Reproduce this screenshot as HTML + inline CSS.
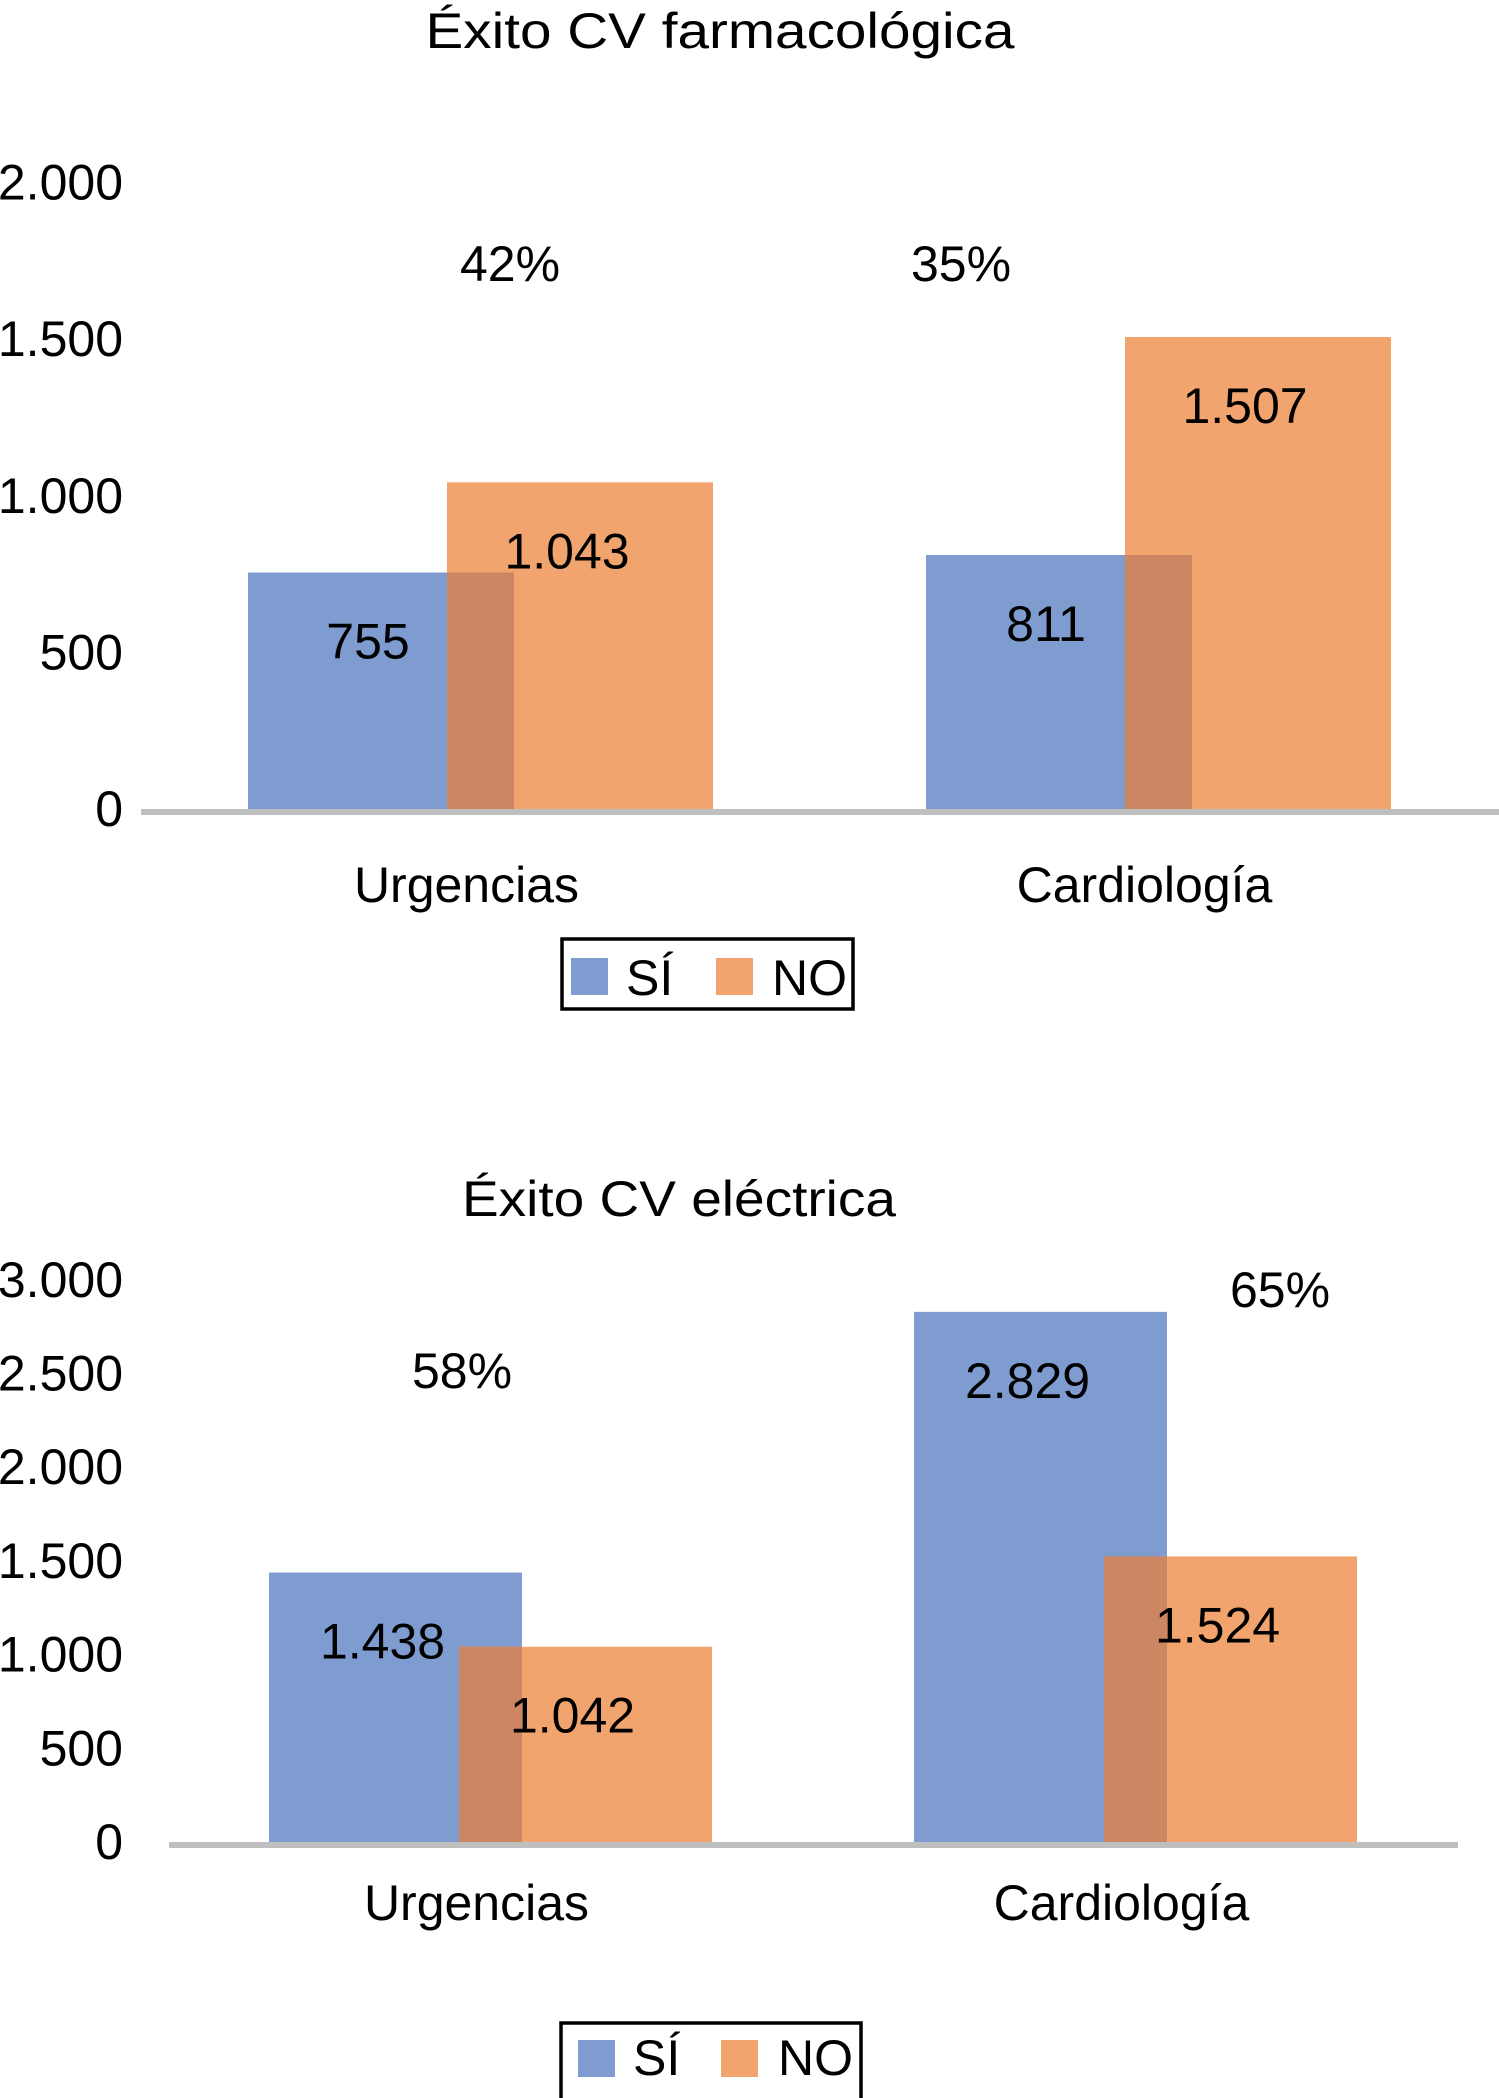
<!DOCTYPE html>
<html><head><meta charset="utf-8">
<style>
html,body{margin:0;padding:0;background:#fff;}
svg{display:block;font-family:"Liberation Sans",sans-serif;}
</style></head>
<body>
<svg id="chart" width="1499" height="2098" viewBox="0 0 1499 2098" xmlns="http://www.w3.org/2000/svg"></svg>
<script>
const categories = ["Urgencias", "Cardiología"];
const seriesNames = ["SÍ", "NO"];
const farmaSi = [755, 811];
const farmaNo = [1043, 1507];
const farmaPct = ["42%", "35%"];
const farmaTicks = [0, 500, 1000, 1500, 2000];
const farmaTickLabels = ["0", "500", "1.000", "1.500", "2.000"];
const elecSi = [1438, 2829];
const elecNo = [1042, 1524];
const elecPct = ["58%", "65%"];
const elecTicks = [0, 500, 1000, 1500, 2000, 2500, 3000];
const elecTickLabels = ["0", "500", "1.000", "1.500", "2.000", "2.500", "3.000"];
const fmt = v => v >= 1000 ? Math.floor(v/1000) + "." + String(v%1000).padStart(3,"0") : String(v);

const NS = "http://www.w3.org/2000/svg";
const svg = document.getElementById("chart");
function mk(tag, attrs, parent) {
  const e = document.createElementNS(NS, tag);
  for (const k in attrs) e.setAttribute(k, attrs[k]);
  (parent || svg).appendChild(e);
  return e;
}
function txt(s, attrs, parent) { const t = mk("text", attrs, parent); t.textContent = s; return t; }

const BLUE = "#7f9cd0", ORANGE = "#f2a46f", OVER = "#cc8662";
const FS = 50;

function chart(cfg) {
  const g = mk("g", {});
  
  
  const y = v => cfg.base - v * cfg.scale;
  const t = txt(cfg.title, {x: cfg.titleX, y: cfg.titleY, "font-size": 50, "text-anchor": "middle", fill: "#000", textLength: cfg.titleLen, lengthAdjust: "spacingAndGlyphs"}, g);
  
  
  cfg.ticks.forEach((v, i) => {
    const tl = txt(cfg.tickLabels[i], {x: 123, y: y(v) + 17, "font-size": FS, "text-anchor": "end", fill: "#000"}, g);
    
    
  });
  categories.forEach((c, i) => {
    const x0 = cfg.groupX[i];
    const si = cfg.si[i], no = cfg.no[i];
    const r1 = mk("rect", {x: x0, y: y(si), width: cfg.bw, height: cfg.base - y(si), fill: BLUE}, g);
    
    
    const r2 = mk("rect", {x: x0 + cfg.off, y: y(no), width: cfg.bw, height: cfg.base - y(no), fill: ORANGE}, g);
    
    
    const m = Math.min(si, no);
    const r3 = mk("rect", {x: x0 + cfg.off, y: y(m), width: cfg.bw - cfg.off, height: cfg.base - y(m), fill: OVER}, g);
    
    
    const l1 = txt(fmt(si), {x: x0 + cfg.bw/2 - 13, y: y(si) + 86, "font-size": FS, "text-anchor": "middle", fill: "#000"}, g);
    
    
    const l2 = txt(fmt(no), {x: x0 + cfg.off + cfg.bw/2 - 13, y: y(no) + 86, "font-size": FS, "text-anchor": "middle", fill: "#000"}, g);
    
    
    const gc = x0 + (cfg.off + cfg.bw) / 2;
    const cl = txt(c, {x: gc - 14, y: cfg.catY, "font-size": FS, "text-anchor": "middle", fill: "#000"}, g);
    
    
    const p = txt(cfg.pct[i], {x: cfg.pctX[i], y: cfg.pctY[i], "font-size": FS, "text-anchor": "middle", fill: "#000"}, g);
    
    
  });
  const ax = mk("rect", {x: cfg.axX0, y: cfg.base, width: cfg.axX1 - cfg.axX0, height: 6, fill: "#bfbfbf"}, g);
  
  
  const L = cfg.leg;
  const lg = mk("g", {}, g);
  
  
  mk("rect", {x: L.x, y: L.y, width: L.w, height: L.h, fill: "#fff", stroke: "#000", "stroke-width": 3.5}, lg);
  const s1 = mk("rect", {x: L.sw1, y: L.sy, width: 37, height: 37, fill: BLUE}, lg);
  
  
  const e1 = txt(seriesNames[0], {x: L.t1, y: L.ty, "font-size": FS, fill: "#000"}, lg);
  
  
  const s2 = mk("rect", {x: L.sw2, y: L.sy, width: 37, height: 37, fill: ORANGE}, lg);
  
  
  const e2 = txt(seriesNames[1], {x: L.t2, y: L.ty, "font-size": FS, fill: "#000"}, lg);
  
  
}

chart({
  name: "chart-farmacologica", title: "Éxito CV farmacológica", titleX: 720, titleY: 48, titleLen: 589,
  base: 809, scale: 0.3132, ticks: farmaTicks, tickLabels: farmaTickLabels,
  si: farmaSi, no: farmaNo, pct: farmaPct, pctX: [510, 961], pctY: [281, 281],
  groupX: [248, 926], bw: 266, off: 199, catY: 902, axX0: 141, axX1: 1499,
  leg: {x: 562, y: 939, w: 291, h: 70, sw1: 571, sw2: 716, sy: 958, t1: 626, t2: 772, ty: 995}
});
chart({
  name: "chart-electrica", title: "Éxito CV eléctrica", titleX: 679, titleY: 1216, titleLen: 434,
  base: 1842, scale: 0.1874, ticks: elecTicks, tickLabels: elecTickLabels,
  si: elecSi, no: elecNo, pct: elecPct, pctX: [462, 1280], pctY: [1388, 1307],
  groupX: [269, 914], bw: 253, off: 190, catY: 1920, axX0: 169, axX1: 1458,
  leg: {x: 561, y: 2023, w: 300, h: 80, sw1: 578, sw2: 721, sy: 2040, t1: 633, t2: 778, ty: 2075}
});
</script>
</body></html>
